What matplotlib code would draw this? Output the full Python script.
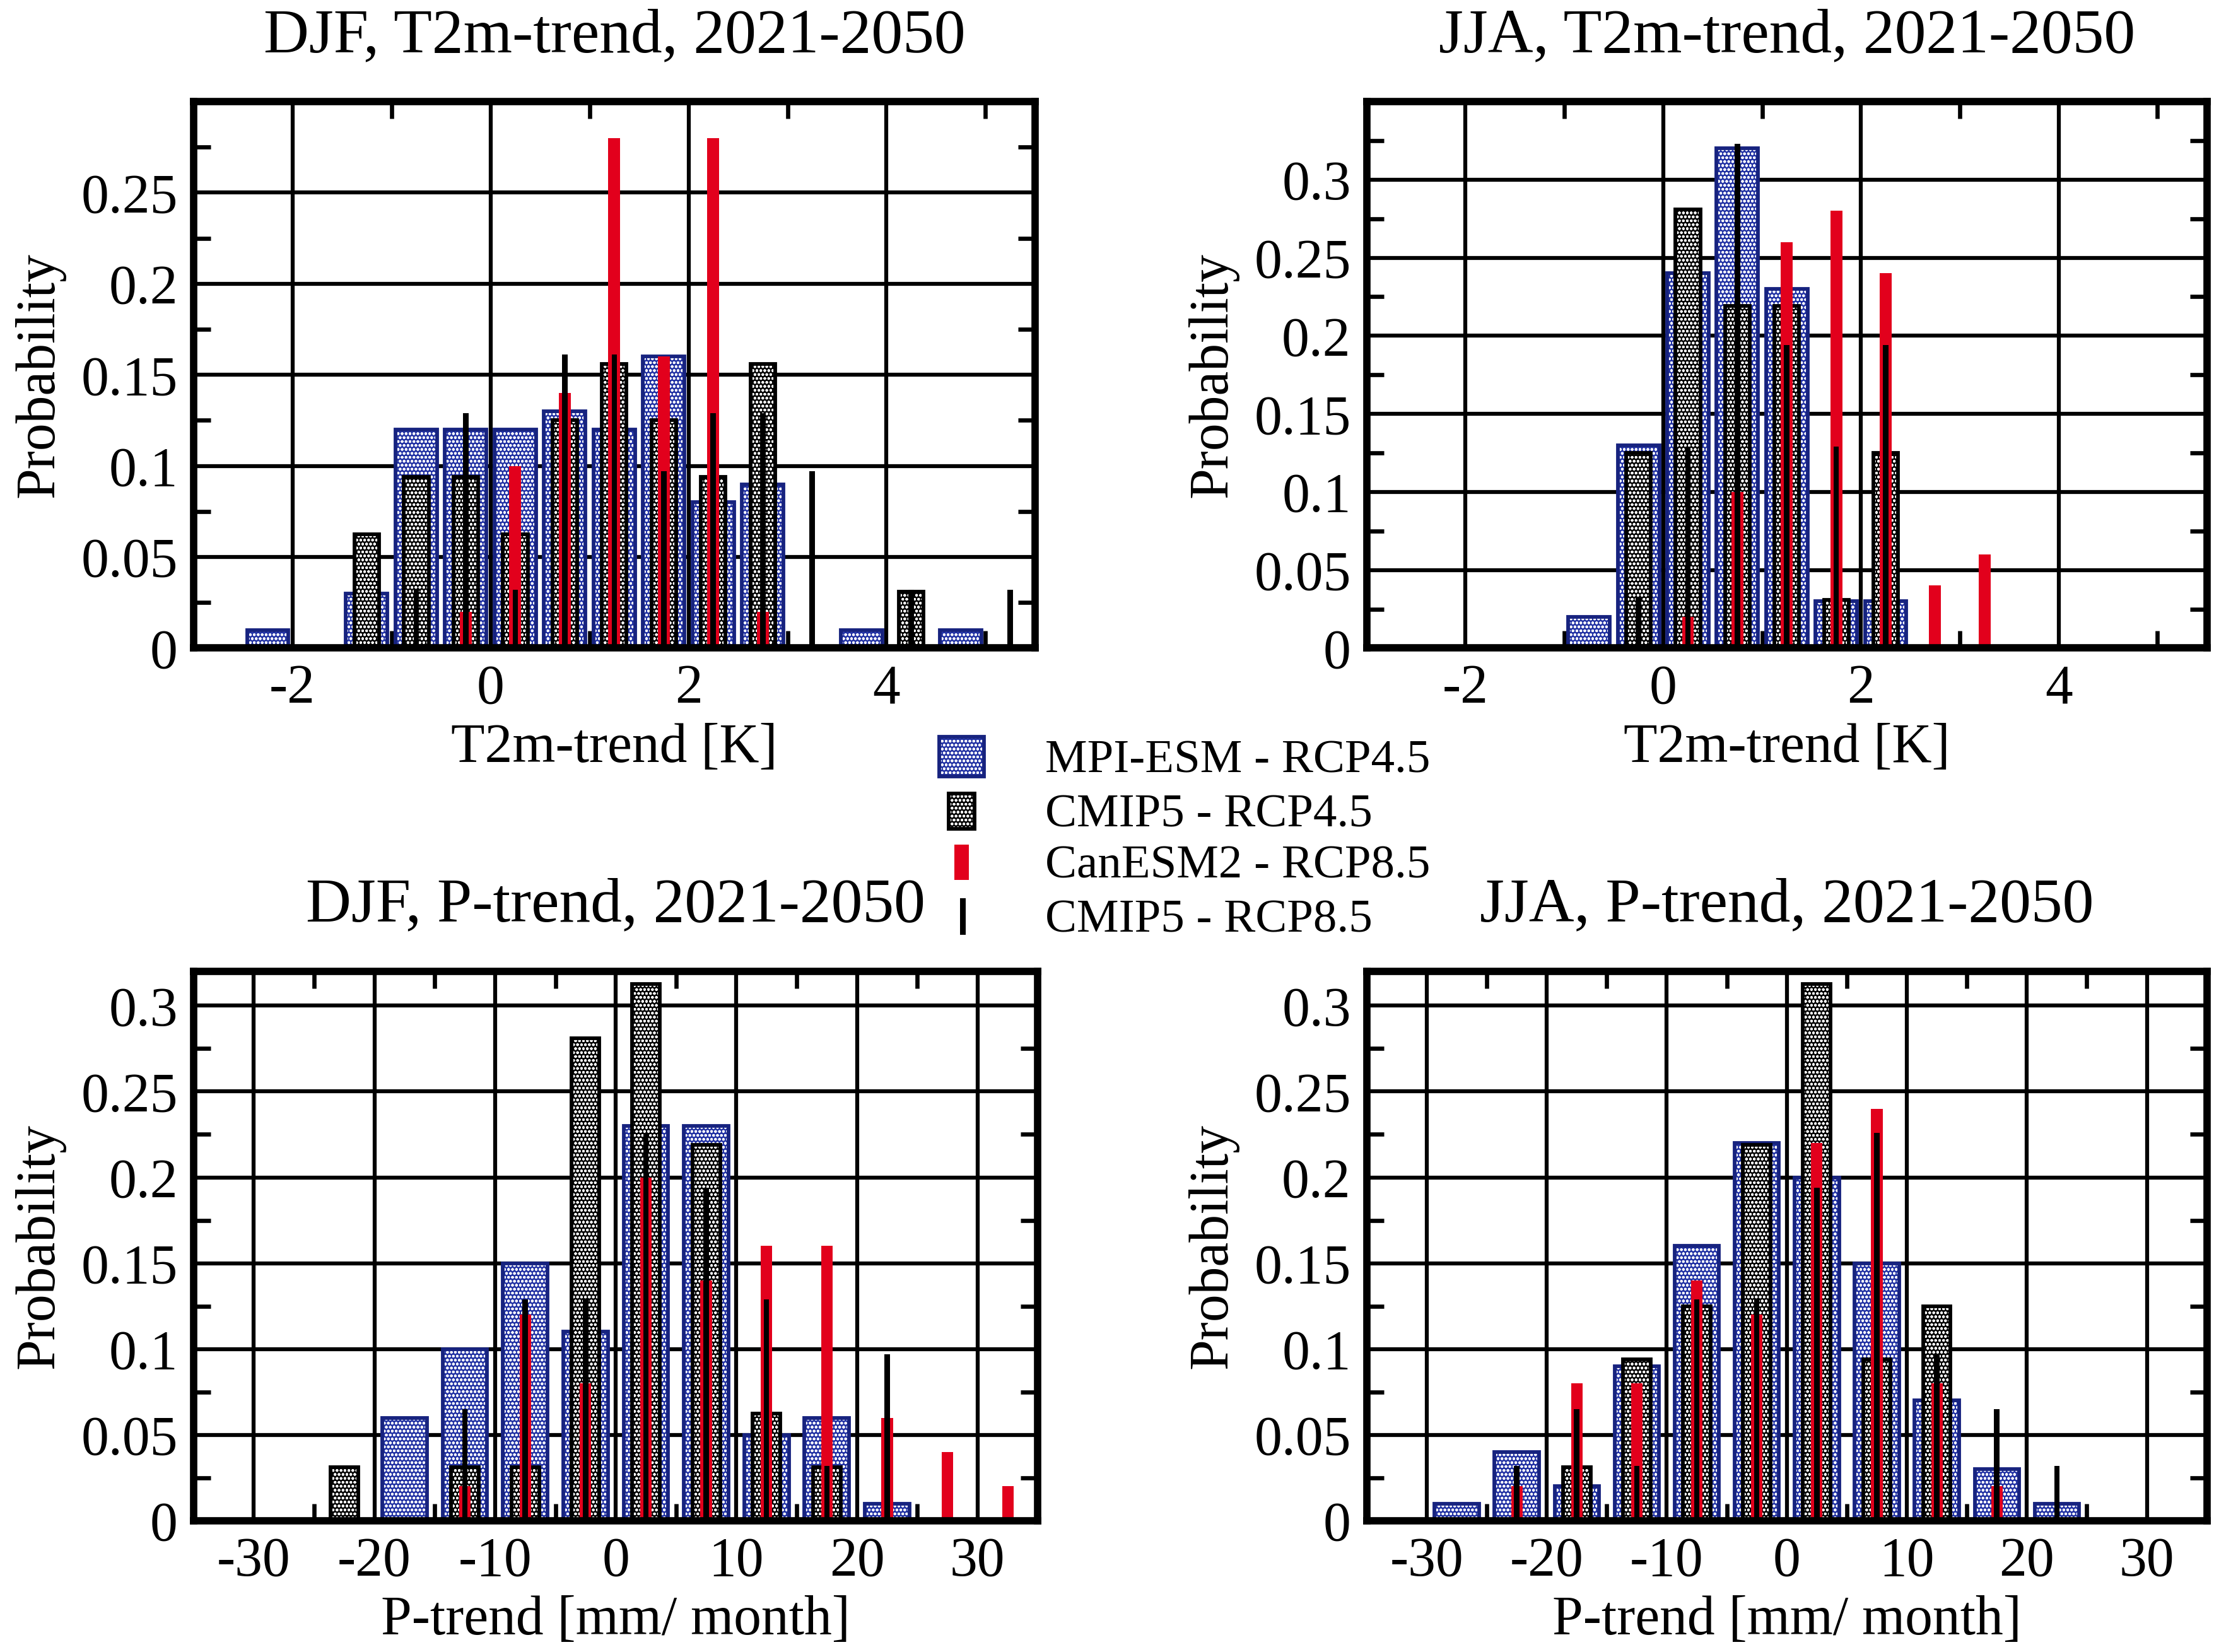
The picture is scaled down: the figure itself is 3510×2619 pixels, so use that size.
import matplotlib
matplotlib.use("Agg")
import matplotlib.pyplot as plt
from matplotlib.patches import Rectangle

plt.rcParams["font.family"] = ["Liberation Serif", "DejaVu Serif"]
plt.rcParams["axes.unicode_minus"] = False
plt.rcParams["hatch.linewidth"] = 0.4

# bin centres
t2m_centers = [-2.75, -2.25, -1.75, -1.25, -0.75, -0.25, 0.25, 0.75, 1.25,
               1.75, 2.25, 2.75, 3.25, 3.75, 4.25, 4.75, 5.25]
p_centers = [-32.5, -27.5, -22.5, -17.5, -12.5, -7.5, -2.5, 2.5, 7.5,
             12.5, 17.5, 22.5, 27.5, 32.5]

# DJF, T2m-trend
djf_t_mpi = [0, 0.01, 0, 0.03, 0.12, 0.12, 0.12, 0.13, 0.12, 0.16, 0.08, 0.09, 0, 0.01, 0, 0.01, 0]
djf_t_cmip45 = [0, 0, 0, 0.0625, 0.094, 0.094, 0.0625, 0.125, 0.156, 0.125, 0.094, 0.156, 0, 0, 0.031, 0, 0]
djf_t_can85 = [0, 0, 0, 0, 0, 0.02, 0.10, 0.14, 0.28, 0.16, 0.28, 0.02, 0, 0, 0, 0, 0]
djf_t_cmip85 = [0, 0, 0, 0, 0.032, 0.129, 0.032, 0.161, 0.161, 0.097, 0.129, 0.129, 0.097, 0, 0.032, 0, 0.032]

# JJA, T2m-trend
jja_t_mpi = [0, 0, 0, 0, 0.02, 0.13, 0.24, 0.32, 0.23, 0.03, 0.03, 0, 0, 0, 0, 0, 0]
jja_t_cmip45 = [0, 0, 0, 0, 0, 0.125, 0.281, 0.219, 0.219, 0.031, 0.125, 0, 0, 0, 0, 0, 0]
jja_t_can85 = [0, 0, 0, 0, 0, 0, 0.02, 0.10, 0.26, 0.28, 0.24, 0.04, 0.06, 0, 0, 0, 0]
jja_t_cmip85 = [0, 0, 0, 0, 0, 0.032, 0.129, 0.323, 0.194, 0.129, 0.194, 0, 0, 0, 0, 0, 0]

# DJF, P-trend
djf_p_mpi = [0, 0, 0, 0.06, 0.10, 0.15, 0.11, 0.23, 0.23, 0.05, 0.06, 0.01, 0, 0]
djf_p_cmip45 = [0, 0, 0.031, 0, 0.031, 0.031, 0.281, 0.3125, 0.219, 0.0625, 0.031, 0, 0, 0]
djf_p_can85 = [0, 0, 0, 0, 0.02, 0.12, 0.08, 0.20, 0.14, 0.16, 0.16, 0.06, 0.04, 0.02]
djf_p_cmip85 = [0, 0, 0, 0, 0.065, 0.129, 0.129, 0.226, 0.194, 0.129, 0.032, 0.097, 0, 0]

# JJA, P-trend
jja_p_mpi = [0, 0.01, 0.04, 0.02, 0.09, 0.16, 0.22, 0.20, 0.15, 0.07, 0.03, 0.01, 0, 0]
jja_p_cmip45 = [0, 0, 0, 0.031, 0.094, 0.125, 0.219, 0.3125, 0.094, 0.125, 0, 0, 0, 0]
jja_p_can85 = [0, 0, 0.02, 0.08, 0.08, 0.14, 0.12, 0.22, 0.24, 0.08, 0.02, 0, 0, 0]
jja_p_cmip85 = [0, 0, 0.032, 0.065, 0.032, 0.129, 0.129, 0.194, 0.226, 0.097, 0.065, 0.032, 0, 0]

series_labels = ["MPI-ESM - RCP4.5", "CMIP5 - RCP4.5", "CanESM2 - RCP8.5", "CMIP5 - RCP8.5"]
titles = ["DJF, T2m-trend, 2021-2050", "JJA, T2m-trend, 2021-2050",
          "DJF, P-trend, 2021-2050", "JJA, P-trend, 2021-2050"]
t2m_xticks = [-2, 0, 2, 4]
p_xticks = [-30, -20, -10, 0, 10, 20, 30]

BLUE = "#2333a4"
BLUE_EDGE = "#17237f"
RED = "#e2001c"
HATCH = "o" * 8


def draw_bars(ax, centers, values, width, face, hatch, edge, lw, z):
    x = [c for c, v in zip(centers, values) if v > 0]
    h = [v for v in values if v > 0]
    if hatch:
        ax.bar(x, h, width, color=face, edgecolor="white", hatch=hatch, linewidth=0, zorder=z)
        ax.bar(x, h, width, fill=False, edgecolor=edge, linewidth=lw, zorder=z + 0.1)
    else:
        ax.bar(x, h, width, color=face, linewidth=0, zorder=z)


fig = plt.figure(figsize=(11.70, 8.73), dpi=300)

positions = [[0.0874, 0.6077, 0.3801, 0.3308],
             [0.6173, 0.6077, 0.3795, 0.3308],
             [0.0874, 0.0795, 0.3814, 0.3325],
             [0.6173, 0.0795, 0.3795, 0.3325]]

panels = [
    (t2m_centers, [djf_t_mpi, djf_t_cmip45, djf_t_can85, djf_t_cmip85], "T2m-trend [K]"),
    (t2m_centers, [jja_t_mpi, jja_t_cmip45, jja_t_can85, jja_t_cmip85], "T2m-trend [K]"),
    (p_centers, [djf_p_mpi, djf_p_cmip45, djf_p_can85, djf_p_cmip85], "P-trend [mm/ month]"),
    (p_centers, [jja_p_mpi, jja_p_cmip45, jja_p_can85, jja_p_cmip85], "P-trend [mm/ month]"),
]
ylims = [0.30, 0.35, 0.32, 0.32]
ytick_sets = [[0, 0.05, 0.1, 0.15, 0.2, 0.25],
              [0, 0.05, 0.1, 0.15, 0.2, 0.25, 0.3],
              [0, 0.05, 0.1, 0.15, 0.2, 0.25, 0.3],
              [0, 0.05, 0.1, 0.15, 0.2, 0.25, 0.3]]

for i, (centers, data, xlabel) in enumerate(panels):
    ax = fig.add_axes(positions[i])
    is_t = centers is t2m_centers
    if is_t:
        xlim = (-3, 5.5)
        widths = [0.42, 0.25, 0.12, 0.055]
        xticks = t2m_xticks
        xminor = [-1, 1, 3, 5]
    else:
        xlim = (-35, 35)
        widths = [3.7, 2.3, 0.95, 0.45]
        xticks = p_xticks
        xminor = [-25, -15, -5, 5, 15, 25]

    draw_bars(ax, centers, data[0], widths[0], BLUE, HATCH, BLUE_EDGE, 1.4, 2)
    draw_bars(ax, centers, data[1], widths[1], "black", HATCH, "black", 1.4, 3)
    draw_bars(ax, centers, data[2], widths[2], RED, None, None, 0, 4)
    draw_bars(ax, centers, data[3], widths[3], "black", None, None, 0, 5)

    ax.set_xlim(*xlim)
    ax.set_ylim(0, ylims[i])
    ax.set_xticks(xticks)
    ax.set_xticks(xminor, minor=True)
    yt = ytick_sets[i]
    ax.set_yticks(yt)
    ax.set_yticklabels([f"{v:g}" for v in yt])
    ax.set_yticks([v + 0.025 for v in yt if v + 0.025 < ylims[i]], minor=True)
    ax.grid(True, which="major", color="black", linewidth=1.5)
    ax.set_axisbelow(True)
    ax.tick_params(which="major", length=0, labelsize=21, pad=6)
    ax.tick_params(which="minor", direction="in", length=6.5, width=1.6,
                   top=True, right=True, bottom=True, left=True)
    for s in ax.spines.values():
        s.set_linewidth(2.8)
        s.set_zorder(10)
    ax.set_title(titles[i], fontsize=23.9, pad=19)
    ax.set_xlabel(xlabel, fontsize=21, labelpad=3)
    ax.set_ylabel("Probability", fontsize=21, labelpad=6)

# legend in the middle of the figure
lax = fig.add_axes([0, 0, 1, 1], facecolor="none")
lax.set_axis_off()
lax.set_xlim(0, 1568)
lax.set_ylim(1170, 0)
handles = [(665, 522, 32, 28, BLUE, HATCH, BLUE_EDGE),
           (672, 562, 18, 25, "black", HATCH, "black"),
           (676, 598, 10, 25, RED, None, None),
           (680, 636, 4, 26, "black", None, None)]
for (hx, hy, hw, hh, fc, hatch, ec), label in zip(handles, series_labels):
    if hatch:
        lax.add_patch(Rectangle((hx, hy), hw, hh, facecolor=fc, edgecolor="white",
                                hatch=hatch, linewidth=0))
        lax.add_patch(Rectangle((hx, hy), hw, hh, fill=False, edgecolor=ec, linewidth=1.4))
    else:
        lax.add_patch(Rectangle((hx, hy), hw, hh, facecolor=fc, linewidth=0))
    lax.text(740, hy + hh / 2 + 3, label, fontsize=18, va="center", ha="left")

fig.savefig("out.png", dpi=300)
